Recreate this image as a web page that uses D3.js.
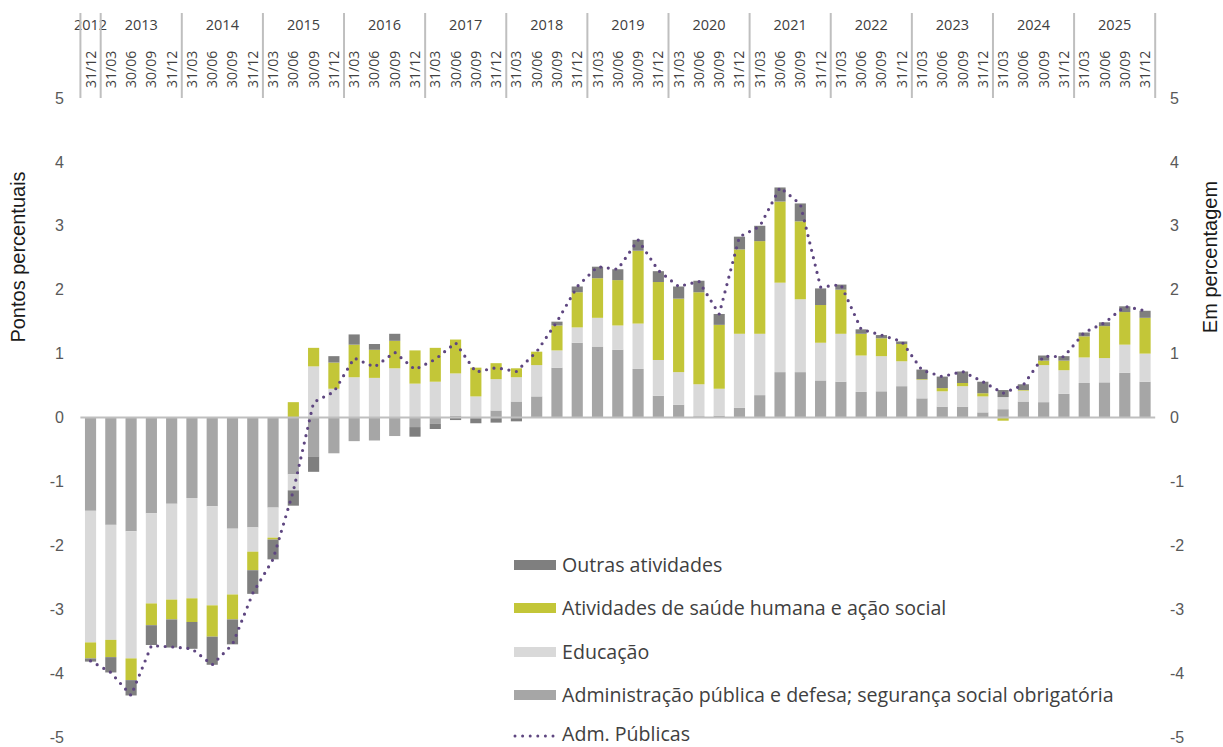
<!DOCTYPE html>
<html>
<head>
<meta charset="utf-8">
<script src="https://cdn.jsdelivr.net/npm/d3@7"></script>
<style>
  body { margin: 0; background: #fff; }
  svg { display: block; }
</style>
</head>
<body>
<svg id="chart" width="1223" height="747"></svg>
<script>
const width = 1223;
const height = 747;
const plot = { left: 80.4, right: 1155.2, top: 98, bottom: 737 };

// trimestres (dia/mes/ano)
const categorias = [
  "31/12/2012",
  "31/03/2013", "30/06/2013", "30/09/2013", "31/12/2013",
  "31/03/2014", "30/06/2014", "30/09/2014", "31/12/2014",
  "31/03/2015", "30/06/2015", "30/09/2015", "31/12/2015",
  "31/03/2016", "30/06/2016", "30/09/2016", "31/12/2016",
  "31/03/2017", "30/06/2017", "30/09/2017", "31/12/2017",
  "31/03/2018", "30/06/2018", "30/09/2018", "31/12/2018",
  "31/03/2019", "30/06/2019", "30/09/2019", "31/12/2019",
  "31/03/2020", "30/06/2020", "30/09/2020", "31/12/2020",
  "31/03/2021", "30/06/2021", "30/09/2021", "31/12/2021",
  "31/03/2022", "30/06/2022", "30/09/2022", "31/12/2022",
  "31/03/2023", "30/06/2023", "30/09/2023", "31/12/2023",
  "31/03/2024", "30/06/2024", "30/09/2024", "31/12/2024",
  "31/03/2025", "30/06/2025", "30/09/2025", "31/12/2025"
];

// contributos em pontos percentuais
const administracao = [
  -1.46, -1.68, -1.78, -1.50, -1.35, -1.26, -1.39, -1.74, -1.72, -1.41, -0.89, -0.61, -0.56,
  -0.37, -0.36, -0.29, -0.15, -0.10, 0.03, -0.01, 0.11, 0.25, 0.33, 0.78, 1.17, 1.11, 1.06,
  0.76, 0.34, 0.20, 0.02, 0.03, 0.15, 0.35, 0.71, 0.71, 0.58, 0.56, 0.40, 0.41, 0.49, 0.30,
  0.17, 0.17, 0.08, 0.13, 0.25, 0.24, 0.37, 0.54, 0.55, 0.70, 0.56
];
const educacao = [
  -2.06, -1.80, -1.99, -1.41, -1.50, -1.57, -1.55, -1.03, -0.38, -0.47, -0.25, 0.80, 0.45,
  0.63, 0.62, 0.77, 0.53, 0.56, 0.66, 0.33, 0.49, 0.38, 0.49, 0.27, 0.24, 0.45, 0.38,
  0.71, 0.56, 0.51, 0.50, 0.42, 1.16, 0.96, 1.40, 1.14, 0.59, 0.75, 0.57, 0.55, 0.39, 0.29,
  0.24, 0.32, 0.25, 0.19, 0.17, 0.58, 0.37, 0.40, 0.38, 0.44, 0.44
];
const saude = [
  -0.25, -0.27, -0.34, -0.34, -0.31, -0.37, -0.49, -0.39, -0.29, -0.03, 0.24, 0.29, 0.41,
  0.51, 0.44, 0.43, 0.52, 0.53, 0.53, 0.45, 0.25, 0.14, 0.21, 0.39, 0.55, 0.62, 0.71,
  1.14, 1.22, 1.15, 1.44, 1.00, 1.32, 1.45, 1.27, 1.22, 0.59, 0.69, 0.34, 0.28, 0.27, 0.01,
  0.05, 0.05, 0.05, -0.05, 0.01, 0.07, 0.15, 0.33, 0.50, 0.51, 0.56
];
const outras = [
  -0.05, -0.24, -0.24, -0.31, -0.44, -0.42, -0.44, -0.39, -0.37, -0.31, -0.24, -0.24, 0.10,
  0.16, 0.09, 0.11, -0.15, -0.08, -0.04, -0.08, -0.08, -0.06, 0.00, 0.06, 0.09, 0.18, 0.17,
  0.17, 0.17, 0.19, 0.18, 0.17, 0.20, 0.24, 0.22, 0.28, 0.26, 0.08, 0.07, 0.05, 0.04, 0.15,
  0.18, 0.18, 0.18, 0.11, 0.09, 0.08, 0.07, 0.06, 0.06, 0.09, 0.11
];
// variacao homologa, em percentagem
const admPublicas = [
  -3.81, -3.99, -4.35, -3.57, -3.59, -3.62, -3.87, -3.55, -2.75, -2.22, -1.15, 0.24, 0.40,
  0.93, 0.79, 1.02, 0.75, 0.91, 1.17, 0.71, 0.78, 0.72, 1.03, 1.50, 2.05, 2.36, 2.32,
  2.78, 2.30, 2.05, 2.13, 1.62, 2.83, 2.99, 3.60, 3.34, 2.04, 2.08, 1.38, 1.29, 1.19, 0.74,
  0.64, 0.72, 0.56, 0.38, 0.51, 0.96, 0.95, 1.33, 1.48, 1.74, 1.67
];
const yTicks = [5, 4, 3, 2, 1, 0, -1, -2, -3, -4, -5];

const series = [
  { key: "admin", nome: "Administração pública e defesa; segurança social obrigatória", valores: administracao, cor: "#a6a6a6" },
  { key: "edu", nome: "Educação", valores: educacao, cor: "#d9d9d9" },
  { key: "saude", nome: "Atividades de saúde humana e ação social", valores: saude, cor: "#c3c638" },
  { key: "outras", nome: "Outras atividades", valores: outras, cor: "#7f7f7f" }
];
const corLinha = "#5e4680";

const linhas = categorias.map((c, i) => {
  const row = { cat: c };
  series.forEach(s => { row[s.key] = s.valores[i]; });
  return row;
});

const svg = d3.select("#chart");

const x = d3.scaleBand()
  .domain(categorias)
  .range([plot.left, plot.right])
  .paddingInner(0.45)
  .paddingOuter(0.225);

const y = d3.scaleLinear()
  .domain([-5, 5])
  .range([plot.bottom, plot.top]);

const stack = d3.stack()
  .keys(series.map(s => s.key))
  .offset(d3.stackOffsetDiverging);

const stacked = stack(linhas);

// barras
const gBars = svg.append("g");
gBars.selectAll("g.serie")
  .data(stacked)
  .join("g")
  .attr("class", "serie")
  .attr("fill", (d, i) => series[i].cor)
  .selectAll("rect")
  .data(d => d)
  .join("rect")
  .attr("x", d => x(d.data.cat))
  .attr("width", x.bandwidth())
  .attr("y", d => y(Math.max(d[0], d[1])))
  .attr("height", d => Math.abs(y(d[0]) - y(d[1])));

// linha do zero
svg.append("line")
  .attr("x1", plot.left).attr("x2", plot.right)
  .attr("y1", y(0)).attr("y2", y(0))
  .attr("stroke", "#bfbfbf")
  .attr("stroke-width", 2);

// linha pontilhada
const line = d3.line()
  .x((d, i) => x(categorias[i]) + x.bandwidth() / 2)
  .y(d => y(d))
  .curve(d3.curveLinear);

svg.append("path")
  .datum(admPublicas)
  .attr("d", line)
  .attr("fill", "none")
  .attr("stroke", corLinha)
  .attr("stroke-width", 3.2)
  .attr("stroke-linecap", "round")
  .attr("stroke-dasharray", "0 7.6");

// eixos y (esquerda e direita)
const yLeft = d3.axisLeft(y).tickValues(yTicks).tickFormat(d => String(d)).tickSize(0).tickPadding(0);
const yRight = d3.axisRight(y).tickValues(yTicks).tickFormat(d => String(d)).tickSize(0).tickPadding(0);

const gl = svg.append("g").attr("transform", "translate(64,0)").call(yLeft);
const gr = svg.append("g").attr("transform", "translate(1170,0)").call(yRight);
[gl, gr].forEach(g => {
  g.select(".domain").remove();
  g.selectAll("text")
    .attr("font-family", "'Liberation Sans', Arial, sans-serif")
    .attr("font-size", 16)
    .attr("fill", "#595959");
});

svg.append("text")
  .attr("transform", "translate(25,257) rotate(-90)")
  .attr("text-anchor", "middle")
  .attr("font-family", "'Liberation Sans', Arial, sans-serif")
  .attr("font-size", 20)
  .attr("fill", "#1a1a1a")
  .text("Pontos percentuais");

svg.append("text")
  .attr("transform", "translate(1217,257) rotate(-90)")
  .attr("text-anchor", "middle")
  .attr("font-family", "'Liberation Sans', Arial, sans-serif")
  .attr("font-size", 20)
  .attr("fill", "#1a1a1a")
  .text("Em percentagem");

// cabecalho: anos e datas
const head = svg.append("g")
  .attr("font-family", "'Open Sans', sans-serif")
  .attr("fill", "#404040");

const meio = x.step() * x.paddingInner() / 2;
const anos = d3.groups(categorias, c => c.slice(6));

anos.forEach(([ano, cats]) => {
  const x0 = x(cats[0]) - meio;
  const x1 = x(cats[cats.length - 1]) + x.bandwidth() + meio;
  head.append("text")
    .attr("x", (x0 + x1) / 2)
    .attr("y", 30)
    .attr("text-anchor", "middle")
    .attr("font-size", 14.5)
    .text(ano);
  head.append("line")
    .attr("x1", x0).attr("x2", x0)
    .attr("y1", 13).attr("y2", 98)
    .attr("stroke", "#bfbfbf")
    .attr("stroke-width", 2);
});
head.append("line")
  .attr("x1", plot.right).attr("x2", plot.right)
  .attr("y1", 13).attr("y2", 98)
  .attr("stroke", "#bfbfbf")
  .attr("stroke-width", 2);

head.selectAll("text.data")
  .data(categorias)
  .join("text")
  .attr("class", "data")
  .attr("transform", d => `translate(${x(d) + x.bandwidth() / 2 + 5},88) rotate(-90)`)
  .attr("font-size", 14)
  .text(d => d.slice(0, 5));

// legenda
const legenda = [
  { nome: "Outras atividades", cor: "#7f7f7f", y: 565 },
  { nome: "Atividades de saúde humana e ação social", cor: "#c3c638", y: 608 },
  { nome: "Educação", cor: "#d9d9d9", y: 652 },
  { nome: "Administração pública e defesa; segurança social obrigatória", cor: "#a6a6a6", y: 695 }
];
const gLeg = svg.append("g")
  .attr("font-family", "'Open Sans', sans-serif")
  .attr("font-size", 19.6)
  .attr("fill", "#404040");

legenda.forEach(l => {
  gLeg.append("rect")
    .attr("x", 514).attr("y", l.y - 5)
    .attr("width", 42).attr("height", 10)
    .attr("fill", l.cor);
  gLeg.append("text")
    .attr("x", 562).attr("y", l.y)
    .attr("dy", "0.35em")
    .text(l.nome);
});
gLeg.append("line")
  .attr("x1", 515).attr("x2", 555)
  .attr("y1", 736).attr("y2", 736)
  .attr("stroke", corLinha)
  .attr("stroke-width", 3)
  .attr("stroke-linecap", "round")
  .attr("stroke-dasharray", "0 7.6");
gLeg.append("text")
  .attr("x", 562).attr("y", 734)
  .attr("dy", "0.35em")
  .text("Adm. Públicas");
</script>
</body>
</html>
